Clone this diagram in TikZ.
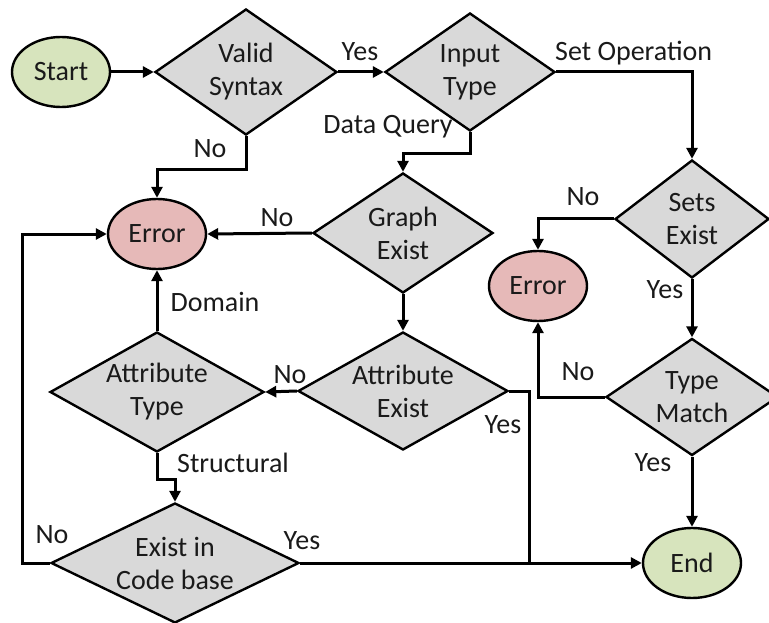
\documentclass[tikz,border=0pt]{standalone}
\usepackage{fontspec}
\setmainfont{Carlito}
\usetikzlibrary{shapes.geometric,arrows.meta}
\definecolor{dgray}{HTML}{D9D9D9}
\definecolor{lgreen}{HTML}{D7E4BD}
\definecolor{lred}{HTML}{E6B9B8}
\definecolor{txt}{HTML}{1A1A1A}
\tikzset{
  dia/.style={shape=diamond,draw=black,fill=dgray,line width=2.4pt,inner sep=0pt},
  ell/.style={shape=ellipse,draw=black,line width=2.4pt,inner sep=0pt,minimum width=98pt,minimum height=70pt,text=txt},
  startend/.style={ell,fill=lgreen},
  errbox/.style={ell,fill=lred},
  dtext/.style={align=center,text=txt,inner sep=0pt},
  arr/.style={line width=3pt,-{Triangle[length=11pt,width=11pt]}},
  ln/.style={line width=3pt},
  lab/.style={text=txt,inner sep=0pt}
}
\begin{document}
\begin{tikzpicture}[x=1pt,y=-1pt,font=\fontsize{28}{33}\selectfont]
\useasboundingbox (0,0) rectangle (769,623);
% nodes
\node[startend] (start) at (61,72) {Start};
\node[dia,minimum width=182pt,minimum height=126pt,label={[dtext]center:Valid\\Syntax}] (valid) at (246,72) {};
\node[dia,minimum width=170pt,minimum height=118pt,label={[dtext]center:Input\\Type}] (input) at (470,72) {};
\node[dia,minimum width=154pt,minimum height=118pt,label={[dtext]center:Sets\\Exist}] (sets) at (692,219) {};
\node[dia,minimum width=180pt,minimum height=120pt,label={[dtext]center:Graph\\Exist}] (graph) at (403,233) {};
\node[errbox] (err1) at (157,234) {Error};
\node[errbox] (err2) at (538,286) {Error};
\node[dia,minimum width=210pt,minimum height=118pt,label={[dtext]center:Attribute\\Exist}] (attrE) at (403,391) {};
\node[dia,minimum width=214pt,minimum height=120pt,label={[dtext]center:Attribute\\Type}] (attrT) at (157,392) {};
\node[dia,minimum width=172pt,minimum height=117pt,label={[dtext]center:Type\\Match}] (tmatch) at (692,397) {};
\node[dia,minimum width=248pt,minimum height=120pt,label={[dtext]center:Exist in\\Code base}] (code) at (175,563) {};
\node[startend] (end) at (692,563) {End};
\coordinate (lft) at (22,563);
\coordinate (jn) at (529,563);
% connectors
\draw[arr] (start.east) -- (valid.west);
\draw[arr] (valid.east) -- (input.west);
\draw[arr] (input.east) -| (sets.north);
\draw[arr] (input.south) -- ++(0,21) -| (graph.north);
\draw[arr] (valid.south) -- ++(0,33) -| (err1.north);
\draw[arr] (graph.west) -- (err1.east);
\draw[arr] (graph.south) -- (attrE.north);
\draw[arr] (attrE.west) -- (attrT.east);
\draw[arr] (attrT.north) -- (err1.south);
\draw[arr] (attrT.south) -- ++(0,26) -| (code.north);
\draw[arr] (code.west) -- (lft) |- (err1.west);
\draw[arr] (code.east) -- (end.west);
\draw[ln] (attrE.east) -| (jn);
\draw[arr] (sets.west) -| (err2.north);
\draw[arr] (sets.south) -- (tmatch.north);
\draw[arr] (tmatch.west) -| (err2.south);
\draw[arr] (tmatch.south) -- (end.north);
% labels
\node[lab] (l1) at (360,52) {Yes};
\node[lab,anchor=west] (l2) at (555,53) {Set Operation};
\node[lab] (l3) at (388,127) {Data Query};
\node[lab] (l4) at (210,149) {No};
\node[lab] (l5) at (277,218) {No};
\node[lab] (l6) at (290,375) {No};
\node[lab] (l7) at (215,302) {Domain};
\node[lab,anchor=west] (l8) at (177,463) {Structural};
\node[lab] (l9) at (52,535) {No};
\node[lab] (l10) at (302,541) {Yes};
\node[lab] (l11) at (503,425) {Yes};
\node[lab] (l12) at (583,197) {No};
\node[lab] (l13) at (665,290) {Yes};
\node[lab] (l14) at (578,372) {No};
\node[lab] (l15) at (653,463) {Yes};
\end{tikzpicture}
\end{document}
